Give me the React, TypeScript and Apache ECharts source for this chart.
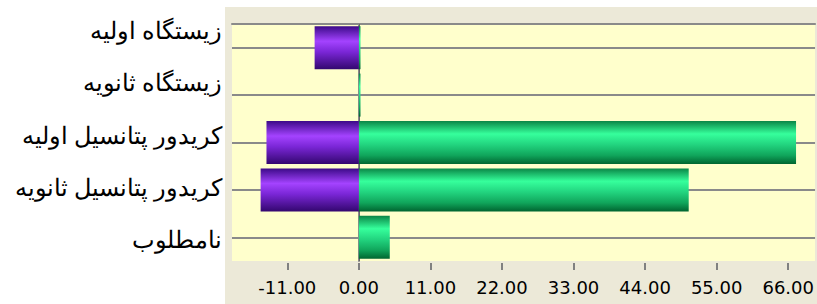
import React, { useEffect, useRef } from "react";
import * as echarts from "echarts";

const categories = ["زیستگاه اولیه", "زیستگاه ثانویه", "کریدور پتانسیل اولیه", "کریدور پتانسیل ثانویه", "نامطلوب"];
const negativeValues = [-6.8, 0, -14.2, -15.1, 0];
const positiveValues = [0.25, 0.25, 67.2, 50.7, 4.75];
const tickValues = [-11, 0, 11, 22, 33, 44, 55, 66];
const axisMin = -19.5;
const axisMax = 70.12;

export default function App() {
  const ref = useRef<HTMLDivElement>(null);
  useEffect(() => {
    document.body.style.margin = "0";
    const chart = echarts.init(ref.current!, null, { renderer: "svg" });
    const purple = new echarts.graphic.LinearGradient(0, 0, 0, 1, [
      { offset: 0, color: "#3c0a88" },
      { offset: 0.35, color: "#a443ff" },
      { offset: 0.6, color: "#7a26d6" },
      { offset: 1, color: "#33076f" },
    ]);
    const green = new echarts.graphic.LinearGradient(0, 0, 0, 1, [
      { offset: 0, color: "#0a8646" },
      { offset: 0.3, color: "#36ff9c" },
      { offset: 0.55, color: "#22d47f" },
      { offset: 0.8, color: "#10a55b" },
      { offset: 1, color: "#006530" },
    ]);
    const gridColor = "#8a8a8a";
    chart.setOption({
      animation: false,
      graphic: [
        {
          type: "rect",
          left: 225,
          top: 7,
          z: -100,
          silent: true,
          shape: { width: 600, height: 300 },
          style: { fill: "#ECE9D8" },
        },
      ],
      grid: [
        { left: 232, right: 0, top: 24, bottom: 43, show: true, backgroundColor: "#FFFFCC", borderWidth: 0 },
        { left: 232, right: 0, top: 5, bottom: 38, show: false },
      ],
      xAxis: [
        {
          type: "value",
          gridIndex: 0,
          min: axisMin,
          max: axisMax,
          offset: 2,
          axisLine: { show: false },
          splitLine: { show: false },
          axisTick: { show: true, length: 7, customValues: tickValues, lineStyle: { color: "#808080", width: 2 } },
          axisLabel: {
            customValues: tickValues,
            margin: 15,
            color: "#000",
            fontFamily: "DejaVu Sans",
            fontSize: 18,
            formatter: (v: number) => v.toFixed(2),
          },
        },
        {
          type: "value",
          gridIndex: 0,
          position: "top",
          min: axisMin,
          max: axisMax,
          axisLine: { show: true, lineStyle: { color: gridColor, width: 2 } },
          axisTick: { show: false },
          axisLabel: { show: false },
          splitLine: { show: false },
        },
        {
          type: "value",
          gridIndex: 1,
          show: false,
        },
      ],
      yAxis: [
        {
          type: "category",
          gridIndex: 0,
          inverse: true,
          data: categories,
          axisLine: { show: true, lineStyle: { color: gridColor, width: 2 } },
          axisTick: { show: true, alignWithLabel: true, length: 5, lineStyle: { color: gridColor, width: 2 } },
          axisLabel: { show: false },
          splitLine: { show: false },
        },
        {
          type: "category",
          gridIndex: 1,
          inverse: true,
          data: categories,
          axisLine: { show: false },
          axisTick: { show: false },
          splitLine: { show: false },
          axisLabel: {
            margin: 10,
            color: "#000",
            fontFamily: "'Liberation Serif', 'DejaVu Serif', serif",
            fontSize: 24,
          },
        },
      ],
      series: [
        {
          type: "bar",
          xAxisIndex: 0,
          yAxisIndex: 0,
          data: positiveValues,
          barWidth: 43,
          barGap: "-100%",
          itemStyle: { color: green },
          markLine: {
            silent: true,
            symbol: "none",
            z: 1,
            label: { show: false },
            lineStyle: { color: gridColor, width: 2, type: "solid" },
            data: [...categories.map((c) => ({ yAxis: c })), { xAxis: 0, lineStyle: { width: 1, color: "#666" } }],
          },
        },
        {
          type: "bar",
          xAxisIndex: 0,
          yAxisIndex: 0,
          data: negativeValues,
          barWidth: 43,
          barGap: "-100%",
          itemStyle: { color: purple },
        },
      ],
    });
    return () => chart.dispose();
  }, []);
  return <div ref={ref} style={{ width: 817, height: 304 }} />;
}
